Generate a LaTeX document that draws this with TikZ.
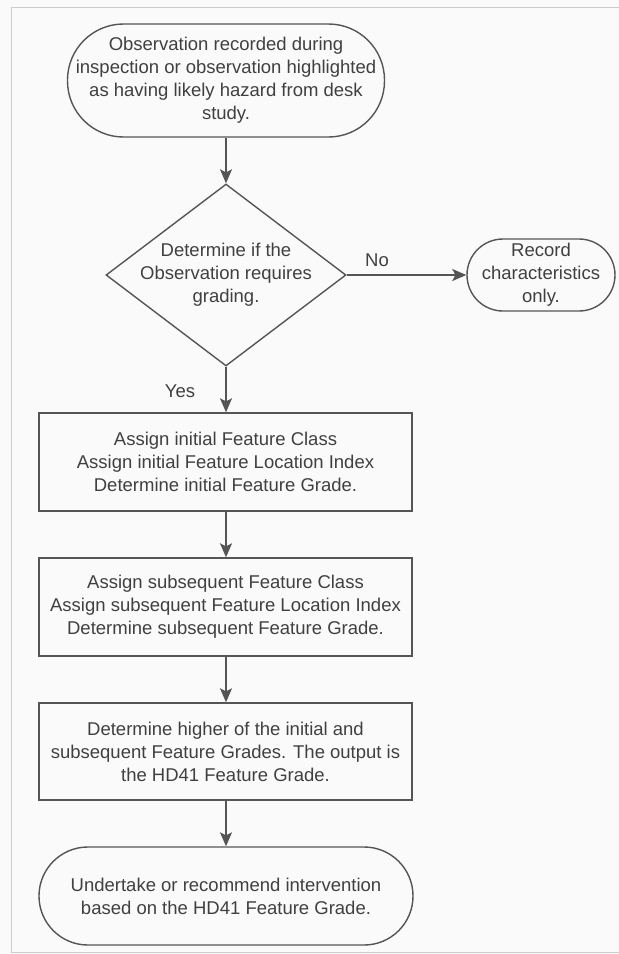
\documentclass[tikz,border=0pt]{standalone}
\usepackage{fontspec}
\setmainfont{Liberation Sans}
\usetikzlibrary{arrows.meta,shapes.geometric}
\definecolor{ink}{HTML}{404040}
\definecolor{edge}{HTML}{555555}
\definecolor{frame}{HTML}{CCCCCC}
\begin{document}
\begin{tikzpicture}[x=1pt,y=-1pt,
  txt/.style={font=\fontsize{18.5pt}{23pt}\selectfont, text=ink, align=center, inner sep=0pt},
  boxnode/.style={txt, draw=edge, line width=1.4pt, rectangle, minimum width=373pt},
  termnode/.style={txt, draw=edge, line width=1.4pt, rectangle},
  flow/.style={draw=edge, line width=1.4pt, -{Stealth[length=14pt,width=12pt,inset=3pt]}}]
\useasboundingbox (0,0) rectangle (619,954);
\fill[white!98!black] (0,0) rectangle (619,954);
\draw[frame, line width=1pt] (619,7) -- (11,7) -- (11,952) -- (619,952);

\node[termnode, minimum width=317pt, minimum height=113pt, rounded corners=56pt] (top) at (226,80.5)
  {Observation recorded during\\inspection or observation highlighted\\as having likely hazard from desk\\study.};
\node[diamond, draw=edge, line width=1.4pt, inner sep=0pt, minimum width=240pt, minimum height=182pt] (dec) at (226,275) {};
\node[txt] (dectext) at (dec.center) {Determine if the\\Observation requires\\grading.};
\node[termnode, minimum width=148pt, minimum height=72pt, rounded corners=36pt] (rec) at (541,275)
  {Record\\characteristics\\only.};
\node[boxnode, minimum height=98pt] (b1) at (225.5,462)
  {Assign initial Feature Class\\Assign initial Feature Location Index\\Determine initial Feature Grade.};
\node[boxnode, minimum height=98pt] (b2) at (225.5,607)
  {Assign subsequent Feature Class\\Assign subsequent Feature Location Index\\Determine subsequent Feature Grade.};
\node[boxnode, minimum height=97pt] (b3) at (225.5,751.5)
  {Determine higher of the initial and\\subsequent Feature Grades. The output is\\the HD41 Feature Grade.};
\node[termnode, minimum width=374pt, minimum height=98pt, rounded corners=48.9pt] (fin) at (226,896)
  {Undertake or recommend intervention\\based on the HD41 Feature Grade.};

\draw[flow] (top.south) -- (dec.north);
\draw[flow] (dec.east) -- (rec.west);
\node[txt] (nolab) at (377,260) {No};
\draw[flow] (dec.south) -- (dec.south |- b1.north);
\node[txt] (yeslab) at (180,391) {Yes};
\draw[flow] (b1.south -| dec.south) -- (dec.south |- b2.north);
\draw[flow] (b2.south -| dec.south) -- (dec.south |- b3.north);
\draw[flow] (b3.south -| dec.south) -- (dec.south |- fin.north);
\end{tikzpicture}
\end{document}
